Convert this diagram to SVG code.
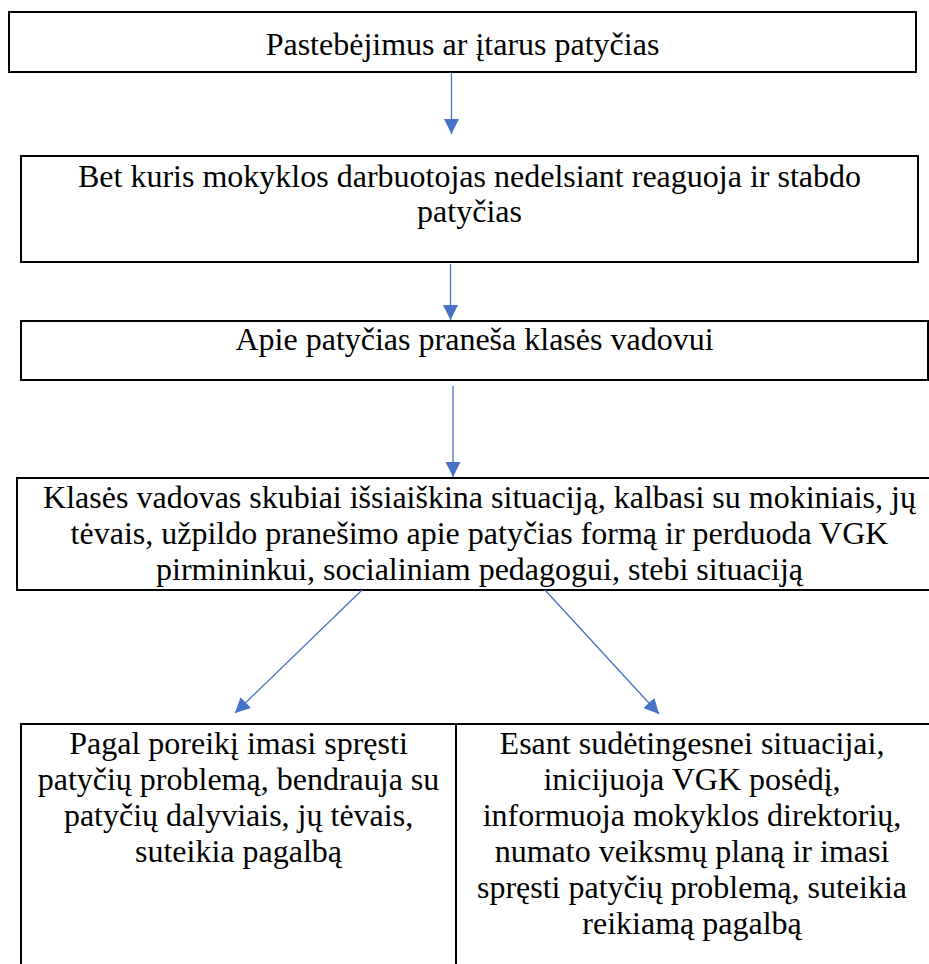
<svg xmlns="http://www.w3.org/2000/svg" width="929" height="964" viewBox="0 0 929 964">
<style>
.box{fill:#fff;stroke:#000;stroke-width:2}
.t{font-family:"Liberation Serif","Times New Roman",serif;font-size:32px;fill:#000;text-anchor:middle}
.c{stroke:#4472C4;stroke-width:1.3;fill:none;marker-end:url(#ah)}
</style>
<defs>
<marker id="ah" markerUnits="userSpaceOnUse" markerWidth="16" markerHeight="16" refX="15" refY="7.5" orient="auto">
<path d="M0,0 L15,7.5 L0,15 Z" fill="#4472C4"/>
</marker>
</defs>
<rect width="929" height="964" fill="#fff"/>
<g id="n1">
<rect class="box" x="9" y="12" width="907" height="60"/>
<text class="t" x="462.5" y="55">Pastebėjimus ar įtarus patyčias</text>
</g>
<g id="n2">
<rect class="box" x="21" y="156" width="897" height="106"/>
<text class="t" x="469.5" y="187">Bet kuris mokyklos darbuotojas nedelsiant reaguoja ir stabdo</text>
<text class="t" x="469.5" y="222">patyčias</text>
</g>
<g id="n3">
<rect class="box" x="21" y="321" width="907" height="59"/>
<text class="t" x="474.5" y="350">Apie patyčias praneša klasės vadovui</text>
</g>
<g id="n4">
<rect class="box" x="17" y="478" width="924" height="112"/>
<text class="t" x="479.5" y="508">Klasės vadovas skubiai išsiaiškina situaciją, kalbasi su mokiniais, jų</text>
<text class="t" x="479.5" y="544">tėvais, užpildo pranešimo apie patyčias formą ir perduoda VGK</text>
<text class="t" x="479.5" y="580">pirmininkui, socialiniam pedagogui, stebi situaciją</text>
</g>
<g id="n5">
<rect class="box" x="21" y="724" width="435" height="260"/>
<text class="t" x="238.5" y="754">Pagal poreikį imasi spręsti</text>
<text class="t" x="238.5" y="790">patyčių problemą, bendrauja su</text>
<text class="t" x="238.5" y="826">patyčių dalyviais, jų tėvais,</text>
<text class="t" x="238.5" y="862">suteikia pagalbą</text>
</g>
<g id="n6">
<rect class="box" x="456" y="724" width="474" height="260"/>
<text class="t" x="692" y="754">Esant sudėtingesnei situacijai,</text>
<text class="t" x="692" y="790">inicijuoja VGK posėdį,</text>
<text class="t" x="692" y="826">informuoja mokyklos direktorių,</text>
<text class="t" x="692" y="862">numato veiksmų planą ir imasi</text>
<text class="t" x="692" y="898">spręsti patyčių problemą, suteikia</text>
<text class="t" x="692" y="934">reikiamą pagalbą</text>
</g>
<g id="connectors">
<line class="c" x1="451.5" y1="73" x2="451.5" y2="134"/>
<line class="c" x1="450.5" y1="264" x2="450.5" y2="320"/>
<line class="c" x1="453" y1="386" x2="453" y2="477"/>
<line class="c" x1="362" y1="590" x2="235" y2="713"/>
<line class="c" x1="545" y1="590" x2="659" y2="714"/>
</g>
</svg>
